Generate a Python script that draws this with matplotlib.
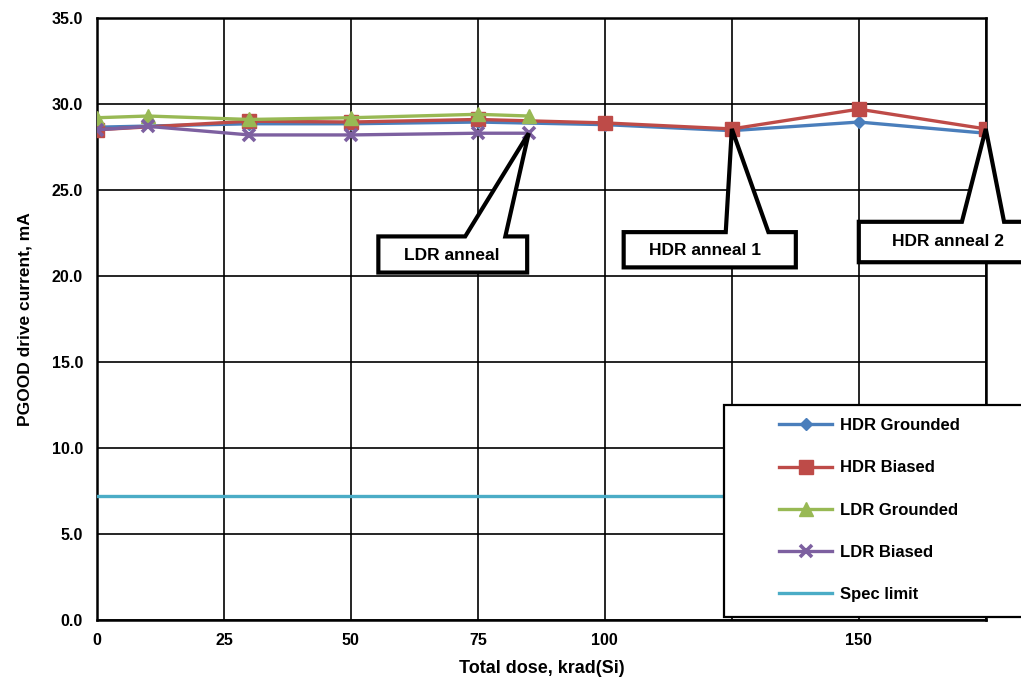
import numpy as np
import matplotlib.pyplot as plt
from matplotlib.patches import Polygon, Rectangle

plt.rcParams["font.family"] = ["Liberation Sans", "DejaVu Sans"]
plt.rcParams["font.weight"] = "bold"

# dose points, krad(Si)
hdr_dose = [0, 30, 50, 75, 100, 125, 150, 175]
ldr_dose = [0, 10, 30, 50, 75, 85]

hdr_grounded = [28.65, 28.85, 28.85, 28.95, 28.8, 28.45, 28.95, 28.3]
hdr_biased = [28.5, 29.0, 28.95, 29.1, 28.9, 28.55, 29.7, 28.55]
ldr_grounded = [29.2, 29.3, 29.1, 29.2, 29.4, 29.3]
ldr_biased = [28.5, 28.7, 28.2, 28.2, 28.3, 28.3]
spec_limit = 7.2

x_ticks = [0, 25, 50, 75, 100, 125, 150, 175]
x_tick_labels = ["0", "25", "50", "75", "100", "", "150", ""]
y_ticks = np.arange(0, 35.1, 5)

fig = plt.figure(figsize=(10.21, 6.86), dpi=100)
ax = fig.add_axes([0.095, 0.0962, 0.8705, 0.8776])

ax.set_xlim(0, 175)
ax.set_ylim(0, 35)
ax.set_xticks(x_ticks)
ax.set_xticklabels(x_tick_labels)
ax.set_yticks(y_ticks)
ax.set_yticklabels([f"{v:.1f}" for v in y_ticks])
ax.tick_params(length=0, labelsize=11.5, pad=9)
ax.tick_params(axis="y", pad=10)
for lab in ax.get_xticklabels() + ax.get_yticklabels():
    lab.set_fontweight("bold")
ax.grid(True, color="black", linewidth=1.2)
ax.set_axisbelow(True)
for sp in ax.spines.values():
    sp.set_linewidth(1.8)

ax.set_xlabel("Total dose, krad(Si)", fontsize=13, fontweight="bold", labelpad=9)
ax.set_ylabel("PGOOD drive current, mA", fontsize=12.5, fontweight="bold", labelpad=14)

lw = 2.4
ax.plot(hdr_dose, hdr_grounded, color="#4a7ebb", lw=lw, marker="D", ms=6.5,
        label="HDR Grounded", zorder=3)
ax.plot(hdr_dose, hdr_biased, color="#be4b48", lw=lw, marker="s", ms=10,
        label="HDR Biased", zorder=3.1)
ax.plot(ldr_dose, ldr_grounded, color="#98b954", lw=lw, marker="^", ms=10,
        label="LDR Grounded", zorder=3.2)
ax.plot(ldr_dose, ldr_biased, color="#7d60a0", lw=lw, marker="x", ms=9, mew=2.6,
        label="LDR Biased", zorder=3.3)
ax.plot([0, 175], [spec_limit, spec_limit], color="#4bacc6", lw=lw,
        label="Spec limit", zorder=3.4)


def callout(text, tip, box, base, text_xy):
    """Box with a wedge pointing at a data point; box = (x0, x1, y0, y1)."""
    x0, x1, y0, y1 = box
    pts = [(x0, y0), (x1, y0), (x1, y1), (base[1], y1), tip,
           (base[0], y1), (x0, y1)]
    ax.add_patch(Polygon(pts, closed=True, facecolor="white", edgecolor="black",
                         lw=3.0, joinstyle="miter", clip_on=False, zorder=6))
    ax.text(*text_xy, text, ha="center", va="center", fontsize=12.5,
            fontweight="bold", zorder=7, clip_on=False)


callout("LDR anneal", (85, 28.3), (55.4, 84.7, 20.2, 22.3), (72.5, 80.4), (69.8, 21.2))
callout("HDR anneal 1", (125, 28.55), (103.7, 137.6, 20.5, 22.55), (123.8, 132.2), (119.8, 21.5))
callout("HDR anneal 2", (175, 28.55), (150.0, 184.0, 20.8, 23.15), (170.3, 178.6), (167.5, 22.0))

# legend frame runs past the right edge of the figure
ax.add_patch(Rectangle((0.706, 0.005), 0.40, 0.352, transform=ax.transAxes,
                       facecolor="white", edgecolor="black", lw=1.6,
                       clip_on=False, zorder=5))
handles, labels = ax.get_legend_handles_labels()
leg = ax.legend(handles, labels, loc="upper left", bbox_to_anchor=(0.758, 0.349),
                frameon=False, fontsize=12, handlelength=3.2, handletextpad=0.45,
                labelspacing=1.63, borderpad=0)
leg.set_zorder(5.5)
for t in leg.get_texts():
    t.set_fontweight("bold")

fig.savefig("out.png", dpi=100)
